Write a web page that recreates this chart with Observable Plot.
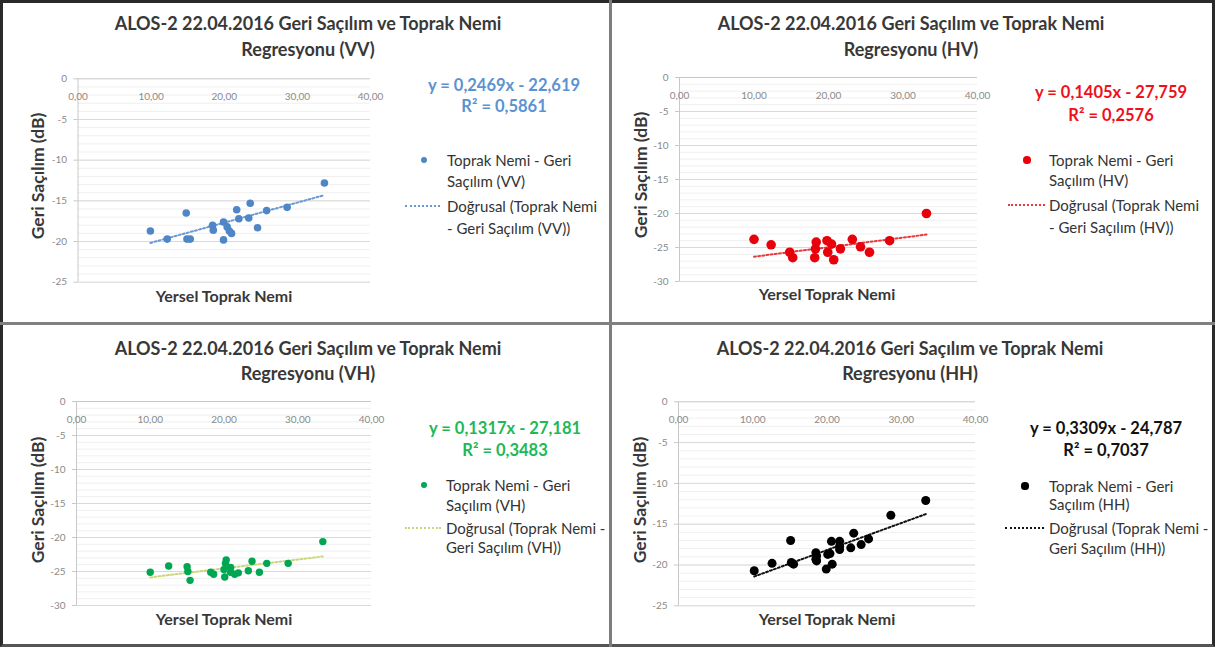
<!DOCTYPE html>
<html><head><meta charset="utf-8">
<script src="https://cdn.jsdelivr.net/npm/d3@7"></script>
<script src="https://cdn.jsdelivr.net/npm/@observablehq/plot@0.6"></script>
<style>
body{margin:0;background:#fff;}
#root{position:relative;width:1215px;height:653px;overflow:hidden;font-family:Lato,"Open Sans",sans-serif;background:#fff;}
.abs{position:absolute;white-space:nowrap;}
.c{transform:translate(-50%,-50%);}
.l{transform:translate(0,-50%);}
.title{font-weight:700;font-size:18px;color:#383838;}
.eq{font-weight:700;font-size:16.5px;}
.leg{font-size:15px;color:#333;}
.ax{font-weight:700;font-size:16px;color:#383838;}
.ay{font-weight:700;font-size:17.5px;color:#383838;}
svg.plot{position:absolute;}
</style></head>
<body><div id="root"></div>
<script>
// ---------------- data ----------------
const panels = ["VV", "HV", "VH", "HH"];
const xTicks = [0, 10, 20, 30, 40];
const titleLine1 = "ALOS-2 22.04.2016 Geri Saçılım ve Toprak Nemi";
const xTitle = "Yersel Toprak Nemi";
const yTitles = ["Geri Saçılım (dB)", "Geri Saçılım (dB)", "Geri Saçılım  (dB)", "Geri Saçılım (dB)"];
const yMins = [-25, -30, -30, -25];

const vvMoisture    = [9.9, 12.2, 14.8, 14.9, 15.35, 18.4, 18.5, 19.9, 19.9, 20.4, 20.7, 21.0, 21.7, 22.0, 23.35, 23.55, 24.55, 25.8, 28.6, 33.7];
const vvBackscatter = [-18.7, -19.7, -16.5, -19.7, -19.7, -18.0, -18.6, -17.6, -19.8, -18.2, -18.7, -19.0, -16.1, -17.2, -17.1, -15.3, -18.3, -16.2, -15.8, -12.8];

const hvMoisture    = [10.0, 12.3, 14.8, 15.2, 18.15, 18.35, 18.25, 19.8, 19.9, 20.4, 20.7, 21.6, 23.2, 24.3, 25.5, 28.2, 33.15];
const hvBackscatter = [-23.8, -24.6, -25.7, -26.5, -26.5, -24.2, -25.2, -24.0, -25.7, -24.5, -26.8, -25.2, -23.8, -24.9, -25.7, -24.0, -20.0];

const vhMoisture    = [10.0, 12.5, 15.0, 15.1, 15.4, 18.2, 18.6, 20.3, 20.2, 20.0, 20.1, 20.9, 20.9, 21.45, 21.95, 23.3, 23.8, 24.8, 25.8, 28.7, 33.4];
const vhBackscatter = [-25.1, -24.2, -24.3, -25.0, -26.3, -25.1, -25.4, -23.3, -23.8, -24.7, -25.8, -24.4, -25.1, -25.4, -25.2, -24.9, -23.5, -25.1, -23.8, -23.8, -20.6];

const hhMoisture    = [10.2, 12.6, 15.1, 15.2, 15.5, 18.5, 18.6, 18.5, 18.6, 19.9, 20.1, 20.4, 20.7, 20.6, 21.7, 21.7, 21.7, 23.2, 23.6, 24.6, 25.6, 28.6, 33.3];
const hhBackscatter = [-20.7, -19.8, -17.0, -19.7, -19.9, -18.5, -18.9, -19.3, -19.5, -20.5, -18.7, -18.6, -19.9, -17.1, -17.1, -17.7, -18.1, -17.9, -16.1, -17.5, -16.8, -13.9, -12.1];

const slopes     = [0.2469, 0.1405, 0.1317, 0.3309];
const intercepts = [-22.619, -27.759, -27.181, -24.787];
const rSquared   = [0.5861, 0.2576, 0.3483, 0.7037];

const seriesLegend = [["Toprak Nemi - Geri", "Saçılım (VV)"], ["Toprak Nemi - Geri", "Saçılım (HV)"], ["Toprak Nemi - Geri", "Saçılım (VH)"], ["Toprak Nemi - Geri", "Saçılım (HH)"]];
const trendLegend = [["Doğrusal (Toprak Nemi", "- Geri Saçılım (VV))"], ["Doğrusal (Toprak Nemi", "- Geri Saçılım (HV))"], ["Doğrusal (Toprak Nemi -", "Geri Saçılım (VH))"], ["Doğrusal (Toprak Nemi -", "Geri Saçılım (HH))"]];

const moisture = [vvMoisture, hvMoisture, vhMoisture, hhMoisture];
const backscatter = [vvBackscatter, hvBackscatter, vhBackscatter, hhBackscatter];

// ---------------- styles / layout ----------------
const dotColors = ["#4f86c6", "#e8000b", "#00a651", "#000000"];
const trendColors = ["#6a98d0", "#e83a3a", "#c9d77c", "#111111"];
const eqColors = ["#5b92d2", "#f0101a", "#1db954", "#111111"];
const dotR = [3.8, 4.8, 3.7, 4.5];
const layout = [
  {ox: 0,   oy: 0,   x0: 77.5, x40: 370, y0: 78.3, yb: 281.7, title: [308, 23, 49], yt: [37, 176], xt: [224, 295], eq: [504, 85, 106], mk: [424, 160], tl: 447, sl: [160, 181], dl: [405, 440, 206], dlt: [206, 228]},
  {ox: 605, oy: 0,   x0: 679,  x40: 977, y0: 77,   yb: 281,   title: [911, 23, 49], yt: [640, 175], xt: [827, 293], eq: [1111, 92, 115], mk: [1027, 160], tl: 1049, sl: [160, 180], dl: [1008, 1045, 205], dlt: [205, 227]},
  {ox: 0,   oy: 322, x0: 76,   x40: 371, y0: 401,  yb: 605,   title: [308, 348, 373], yt: [37, 500], xt: [224, 618], eq: [505, 428, 450], mk: [424, 485], tl: 446, sl: [485, 505], dl: [405, 441, 528], dlt: [528, 547]},
  {ox: 605, oy: 322, x0: 678,  x40: 975, y0: 401.3, yb: 605.3, title: [910, 348, 373], yt: [639, 500], xt: [827, 618], eq: [1106, 428, 450], mk: [1025, 486], tl: 1049, sl: [486, 504], dl: [1005, 1044, 528], dlt: [528, 548]}
];

const root = document.getElementById("root");
function addText(txt, x, y, cls, style = "") {
  const d = document.createElement("div");
  d.className = "abs " + cls;
  d.style.cssText = `left:${x}px;top:${y}px;` + style;
  d.textContent = txt;
  root.appendChild(d);
  return d;
}
const fmt = (v, n) => Math.abs(v).toFixed(n).replace(".", ",");

panels.forEach((p, i) => {
  const L = layout[i];
  const W = 420, H = 323;
  const yMin = yMins[i];
  const pts = moisture[i].map((x, k) => ({x, y: backscatter[i][k]}));
  const trend = d3.extent(moisture[i]).map(x => ({x, y: slopes[i] * x + intercepts[i]}));
  const chart = Plot.plot({
    width: W, height: H,
    marginLeft: L.x0 - L.ox,
    marginRight: W - (L.x40 - L.ox),
    marginTop: L.y0 - L.oy,
    marginBottom: H - (L.yb - L.oy),
    x: {domain: [0, 40], axis: null},
    y: {domain: [yMin, 0], axis: null},
    style: {background: "transparent", fontFamily: "Lato, sans-serif", overflow: "visible"},
    marks: [
      Plot.gridY(d3.range(yMin, 0, 1), {stroke: "#efefef", strokeOpacity: 1}),
      Plot.gridY(d3.range(yMin, 0, 5), {stroke: "#d9d9d9", strokeOpacity: 1}),
      Plot.ruleX([0], {stroke: "#c8c8c8"}),
      Plot.ruleY([0], {stroke: "#c8c8c8"}),
      Plot.axisY(d3.range(yMin, 1, 5), {tickSize: 4, tickPadding: 7, stroke: "#c8c8c8", fill: "#8a8a8a", fontSize: 10, tickFormat: d => String(d), label: null}),
      Plot.text(xTicks, {x: d => d, frameAnchor: "top", dy: 14, text: d => d.toFixed(2).replace(".", ","), fill: "#8a8a8a", fontSize: 10}),
      Plot.line(trend, {x: "x", y: "y", stroke: trendColors[i], strokeWidth: 2, strokeDasharray: "2,2.2"}),
      Plot.dot(pts, {x: "x", y: "y", r: dotR[i], fill: dotColors[i]})
    ]
  });
  chart.classList.add("plot");
  chart.style.left = L.ox + "px";
  chart.style.top = L.oy + "px";
  root.appendChild(chart);

  addText(titleLine1, L.title[0], L.title[1], "title c");
  addText(`Regresyonu (${p})`, L.title[0], L.title[2], "title c");
  addText(yTitles[i], L.yt[0], L.yt[1], "ay", "transform:translate(-50%,-50%) rotate(-90deg);");
  addText(xTitle, L.xt[0], L.xt[1], "ax c");
  const sign = intercepts[i] < 0 ? "-" : "+";
  addText(`y = ${fmt(slopes[i], 4)}x ${sign} ${fmt(intercepts[i], 3)}`, L.eq[0], L.eq[1], "eq c", `color:${eqColors[i]}`);
  addText(`R² = ${fmt(rSquared[i], 4)}`, L.eq[0], L.eq[2], "eq c", `color:${eqColors[i]}`);

  // legend swatches
  const mk = document.createElement("div");
  mk.className = "abs";
  const s = dotR[i] * 1.6;
  mk.style.cssText = `left:${L.mk[0] - s / 2}px;top:${L.mk[1] - s / 2}px;width:${s}px;height:${s}px;border-radius:50%;background:${dotColors[i]}`;
  root.appendChild(mk);
  seriesLegend[i].forEach((t, k) => addText(t, L.tl, L.sl[k], "leg l"));
  const dl = document.createElement("div");
  dl.className = "abs";
  dl.style.cssText = `left:${L.dl[0]}px;top:${L.dl[2] - 1}px;width:${L.dl[1] - L.dl[0]}px;height:0;border-top:2px dotted ${trendColors[i]}`;
  root.appendChild(dl);
  trendLegend[i].forEach((t, k) => addText(t, L.tl, L.dlt[k], "leg l"));
});

// frame and dividers
const frame = document.createElement("div");
frame.className = "abs";
frame.style.cssText = "left:0;top:0;width:1215px;height:647px;box-sizing:border-box;border:3px solid #2a2a2a;border-bottom-color:#555;";
root.appendChild(frame);
const vdiv = document.createElement("div");
vdiv.className = "abs";
vdiv.style.cssText = "left:609px;top:0;width:3px;height:647px;background:#7d7d7d;";
root.appendChild(vdiv);
const hdiv = document.createElement("div");
hdiv.className = "abs";
hdiv.style.cssText = "left:0;top:322px;width:1215px;height:3px;background:#808080;";
root.appendChild(hdiv);
</script>
</body></html>
